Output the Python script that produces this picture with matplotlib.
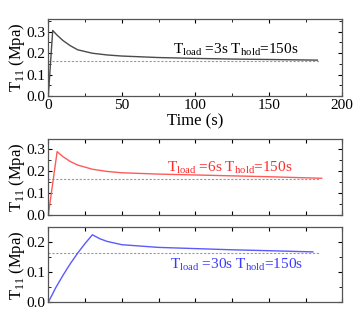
import matplotlib
matplotlib.use("Agg")
import matplotlib.pyplot as plt
from matplotlib.ticker import MultipleLocator

plt.rcParams['font.family'] = ['Liberation Serif', 'DejaVu Serif']
plt.rcParams['mathtext.fontset'] = 'custom'
plt.rcParams['mathtext.rm'] = 'Liberation Serif'

# stress relaxation, T_load = 3 s
t1 = [0, 3, 6, 10, 15, 20, 30, 40, 50, 75, 100, 125, 150, 183]
s1 = [0, 0.305, 0.283, 0.258, 0.234, 0.215, 0.199, 0.191, 0.186, 0.179, 0.175, 0.172, 0.170, 0.167]

# T_load = 6 s
t2 = [0, 6, 10, 15, 20, 30, 40, 50, 75, 100, 125, 150, 186]
s2 = [0, 0.288, 0.265, 0.243, 0.227, 0.208, 0.198, 0.192, 0.186, 0.182, 0.178, 0.174, 0.167]

# T_load = 30 s
t3 = [0, 5, 10, 15, 20, 25, 30, 35, 40, 50, 75, 100, 125, 150, 180]
s3 = [0, 0.048, 0.090, 0.129, 0.164, 0.196, 0.225, 0.212, 0.203, 0.192, 0.183, 0.179, 0.175, 0.172, 0.168]

ref_t = [0, 185]
ref_s = [0.163, 0.163]

labels = [r'$\mathregular{T_{load}}$ =3s $\mathregular{T_{hold}}$=150s',
          r'$\mathregular{T_{load}}$ =6s $\mathregular{T_{hold}}$=150s',
          r'$\mathregular{T_{load}}$ =30s $\mathregular{T_{hold}}$=150s']

fig = plt.figure(figsize=(3.57, 3.21), dpi=100)
ax1 = fig.add_axes([0.1353, 0.7009, 0.8235, 0.239])
ax2 = fig.add_axes([0.1353, 0.330, 0.8235, 0.2368])
ax3 = fig.add_axes([0.1353, 0.0583, 0.8235, 0.2336])

panels = [
    (ax1, t1, s1, '#4a4a4a', 'black', labels[0], (85, 0.215), 0.357),
    (ax2, t2, s2, '#ff5a5a', '#ff2a2a', labels[1], (81, 0.215), 0.345),
    (ax3, t3, s3, '#5a5aff', '#3a3aff', labels[2], (83, 0.126), 0.25),
]

for ax, t, s, lc, tc, lab, pos, ytop in panels:
    ax.plot(ref_t, ref_s, color='#9a9a9a', lw=0.8, ls=(0, (2, 1.5)))
    ax.plot(t, s, color=lc, lw=1.0)
    ax.text(pos[0], pos[1], lab, color=tc, fontsize=11, va='center', ha='left')
    ax.set_xlim(0, 200)
    ax.set_ylim(0, ytop)
    ax.xaxis.set_major_locator(MultipleLocator(50))
    ax.xaxis.set_minor_locator(MultipleLocator(25))
    ax.yaxis.set_major_locator(MultipleLocator(0.1))
    ax.yaxis.set_minor_locator(MultipleLocator(0.05))
    ax.yaxis.set_major_formatter(matplotlib.ticker.FormatStrFormatter('%.1f'))
    ax.tick_params(which='both', direction='in', top=True, right=True,
                   labelsize=11, pad=2)
    ax.tick_params(which='major', length=3)
    ax.tick_params(which='minor', length=2)
    ax.set_ylabel(r'T$_{\mathregular{11}}$ (Mpa)', fontsize=12, labelpad=0)
    for sp in ax.spines.values():
        sp.set_color('#555555')
        sp.set_linewidth(0.9)

ax2.set_xticklabels([])
ax3.set_xticklabels([])
ax2.xaxis.set_major_locator(MultipleLocator(25))
ax3.xaxis.set_major_locator(MultipleLocator(25))
ax2.tick_params(axis='x', which='both', top=True, length=3)
ax3.tick_params(axis='x', which='both', length=3)
ax1.set_xlabel('Time (s)', fontsize=12, labelpad=1)

fig.savefig('out.png', dpi=100)
